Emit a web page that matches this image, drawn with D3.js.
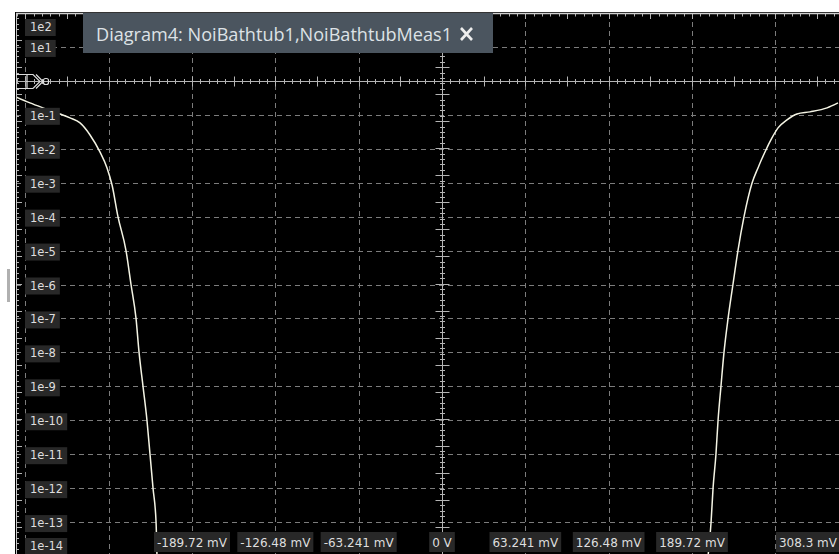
<!DOCTYPE html>
<html><head><meta charset="utf-8">
<script src="https://cdn.jsdelivr.net/npm/d3@7"></script>
<style>html,body{margin:0;padding:0;background:#fff;overflow:hidden}</style>
</head><body><svg id="c" width="839" height="554"></svg>
<script>
// ---------- data ----------
const titleText = "Diagram4: NoiBathtub1,NoiBathtubMeas1";
const divisionMV = 63.241;
const yTickValues = [1e2,1e1,1e-1,1e-2,1e-3,1e-4,1e-5,1e-6,1e-7,1e-8,1e-9,1e-10,1e-11,1e-12,1e-13,1e-14];
const yTickLabels = ["1e2","1e1","1e-1","1e-2","1e-3","1e-4","1e-5","1e-6","1e-7","1e-8","1e-9","1e-10","1e-11","1e-12","1e-13","1e-14"];
const yGridValues = [1e1,1e-1,1e-2,1e-3,1e-4,1e-5,1e-6,1e-7,1e-8,1e-9,1e-10,1e-11,1e-12,1e-13];
const xTickValues = [-189.72,-126.48,-63.241,0,63.241,126.48,189.72];
const xTickLabels = ["-189.72 mV","-126.48 mV","-63.241 mV","0 V","63.241 mV","126.48 mV","189.72 mV"];
const xEdgeLabel = "308.3 mV";
// left flank of bathtub (voltage mV, BER)
const leftVoltage = [-323.3,-312.7,-302.8,-289.9,-282.3,-274.7,-267.1,-259.6,-254.2,-250.4,-245.9,-239.8,-236.0,-232.2,-229.9,-226.9,-223.9,-221.6,-219.3,-217.0,-216.3];
const leftBer = [0.337,0.224,0.160,0.106,0.081,0.0577,0.0255,0.00805,0.00272,0.000855,1e-4,1e-5,1e-6,1e-7,1e-8,1e-9,1e-10,1e-11,1e-12,1e-13,1e-14];
// right flank of bathtub
const rightVoltage = [201.9,204.2,205.7,207.9,209.5,211.7,214.0,217.1,220.8,224.6,229.2,235.3,239.8,245.1,250.4,255.0,261.8,269.4,279.3,292.2,300.5];
const rightBer = [1e-14,1e-13,1e-12,1e-11,1e-10,1e-9,1e-8,1e-7,1e-6,1e-5,1e-4,0.00098,0.00272,0.00805,0.0208,0.0411,0.0708,0.106,0.122,0.160,0.224];

// ---------- layout ----------
const L = 16, R = 839, T = 13, B = 554;
const svg = d3.select("#c");
svg.append("rect").attr("width",839).attr("height",554).attr("fill","#fff");
svg.append("rect").attr("x",L-1).attr("y",T-1).attr("width",R-L+1).attr("height",B-T+1).attr("fill","#000");
svg.append("defs").append("clipPath").attr("id","clip").append("rect")
  .attr("x",L).attr("y",T).attr("width",R-L).attr("height",B-T);

const x = d3.scaleLinear().domain([-5*divisionMV, 5*divisionMV]).range([25.33, 858.67]);
const y = d3.scaleLog().domain([1e-14, 1e2]).range([556, 13]);

const g = svg.append("g").attr("clip-path","url(#clip)");
const gridCol = "#7c7c7c", axisCol = "#b4b4b4";

// vertical dashed grid
const xGrid = d3.range(-5,6).filter(k=>k!==0).map(k=>k*divisionMV);
g.selectAll(".vg").data(xGrid).join("line")
  .attr("x1",d=>Math.round(x(d))+0.5).attr("x2",d=>Math.round(x(d))+0.5)
  .attr("y1",T).attr("y2",B).attr("stroke",gridCol).attr("stroke-width",1).attr("stroke-dasharray","5,4");
// horizontal dashed grid
g.selectAll(".hg").data(yGridValues).join("line")
  .attr("x1",L).attr("x2",R)
  .attr("y1",d=>Math.round(y(d))+0.5).attr("y2",d=>Math.round(y(d))+0.5)
  .attr("stroke",gridCol).attr("stroke-width",1).attr("stroke-dasharray","5,4");

// center axes
const y0 = Math.round(y(1))+0.5, x0 = Math.round(x(0))+0.5;
g.append("line").attr("x1",L).attr("x2",R).attr("y1",y0).attr("y2",y0).attr("stroke",axisCol);
g.append("line").attr("x1",x0).attr("x2",x0).attr("y1",T).attr("y2",B).attr("stroke",axisCol);
// ticks on horizontal axis and top frame
const pxDiv = x(divisionMV)-x(0);
for (let i=-60;i<=60;i++){
  const xx = Math.round(x(0)+i*pxDiv/10)+0.5;
  const len = (i%5===0)?5:2.5;
  g.append("line").attr("x1",xx).attr("x2",xx).attr("y1",y0-len).attr("y2",y0+len).attr("stroke",axisCol);
  g.append("line").attr("x1",xx).attr("x2",xx).attr("y1",T).attr("y2",T+len+1).attr("stroke",axisCol);
}
// ticks on vertical axis and left frame
const vStep = (B-T)/20;
for (let i=0;i<=100;i++){
  const yy = Math.round(T+i*vStep/5)+0.5;
  const major = i%5===0;
  const len = major?7:2.5;
  g.append("line").attr("x1",x0-len).attr("x2",x0+len).attr("y1",yy).attr("y2",yy).attr("stroke",axisCol);
  g.append("line").attr("x1",L).attr("x2",L+(major?6:3)).attr("y1",yy).attr("y2",yy).attr("stroke",axisCol);
}
// frame lines
svg.append("line").attr("x1",L).attr("x2",R).attr("y1",T+0.5).attr("y2",T+0.5).attr("stroke","#d0d0d0").attr("stroke-width",1.5);
svg.append("line").attr("x1",L+0.5).attr("x2",L+0.5).attr("y1",T).attr("y2",B).attr("stroke","#c8c8c8");

// curves
const line = d3.line().x(d=>x(d[0])).y(d=>y(d[1])).curve(d3.curveMonotoneX);
const leftPts = leftVoltage.map((v,i)=>[v,leftBer[i]]);
const rightPts = rightVoltage.map((v,i)=>[v,rightBer[i]]);
[leftPts,rightPts].forEach(p=>{
  g.append("path").attr("d",line(p)).attr("fill","none").attr("stroke","#f4f4e4").attr("stroke-width",1.5);
});

// reference marker at 1e0
const mk = svg.append("g").attr("fill","none").attr("stroke","#dcdcdc").attr("stroke-width",1.2);
mk.append("path").attr("d",`M${L} ${y0-7}H33L40 ${y0}L33 ${y0+7}H${L}M27 ${y0-7}V${y0+7}M36 ${y0-7}L43 ${y0}L36 ${y0+7}`);
mk.append("rect").attr("x",43.5).attr("y",y0-3).attr("width",5).attr("height",6).attr("rx",2);

// y labels
const font = "'DejaVu Sans', Verdana, sans-serif";
yTickValues.forEach((v,i)=>{
  const cy = Math.max(26, Math.min(545, y(v)));
  const lg = svg.append("g");
  const r = lg.append("rect").attr("fill","#282828");
  const t = lg.append("text").attr("x",30).attr("y",cy+5).attr("fill","#dedede")
    .attr("font-family",font).attr("font-size","11.5px").text(yTickLabels[i]);
  const w = t.node().getComputedTextLength();
  r.attr("x",25).attr("y",cy-7).attr("width",w+9).attr("height",17);
});
// x labels
function xLabel(cx, txt, anchor){
  const lg = svg.append("g");
  const r = lg.append("rect").attr("fill","#282828");
  const t = lg.append("text").attr("y",547).attr("fill","#dedede")
    .attr("font-family",font).attr("font-size","12px").text(txt);
  const w = t.node().getComputedTextLength();
  let sx = anchor==="start"?cx:cx-w/2;
  if (sx + w > R - 2) sx = R - 2 - w;
  t.attr("x",sx);
  r.attr("x",sx-3).attr("y",532).attr("width",w+6).attr("height",20);
}
xTickValues.forEach((v,i)=>xLabel(x(v), xTickLabels[i], "middle"));
xLabel(786, xEdgeLabel, "start");

// left handle
svg.append("rect").attr("x",7).attr("y",269).attr("width",3).attr("height",33).attr("fill","#b0b0b0");

// title tab
svg.append("rect").attr("x",83).attr("y",13).attr("width",410).attr("height",40).attr("fill","#4b555f");
svg.append("text").attr("x",96).attr("y",41).attr("fill","#dde2e6")
  .attr("font-family","'Open Sans','Noto Sans',sans-serif").attr("font-size","18.1px").text(titleText);
svg.append("path").attr("d","M461 28L472 40M472 28L461 40").attr("stroke","#eeeeee").attr("stroke-width",2.6).attr("fill","none");
</script></body></html>
